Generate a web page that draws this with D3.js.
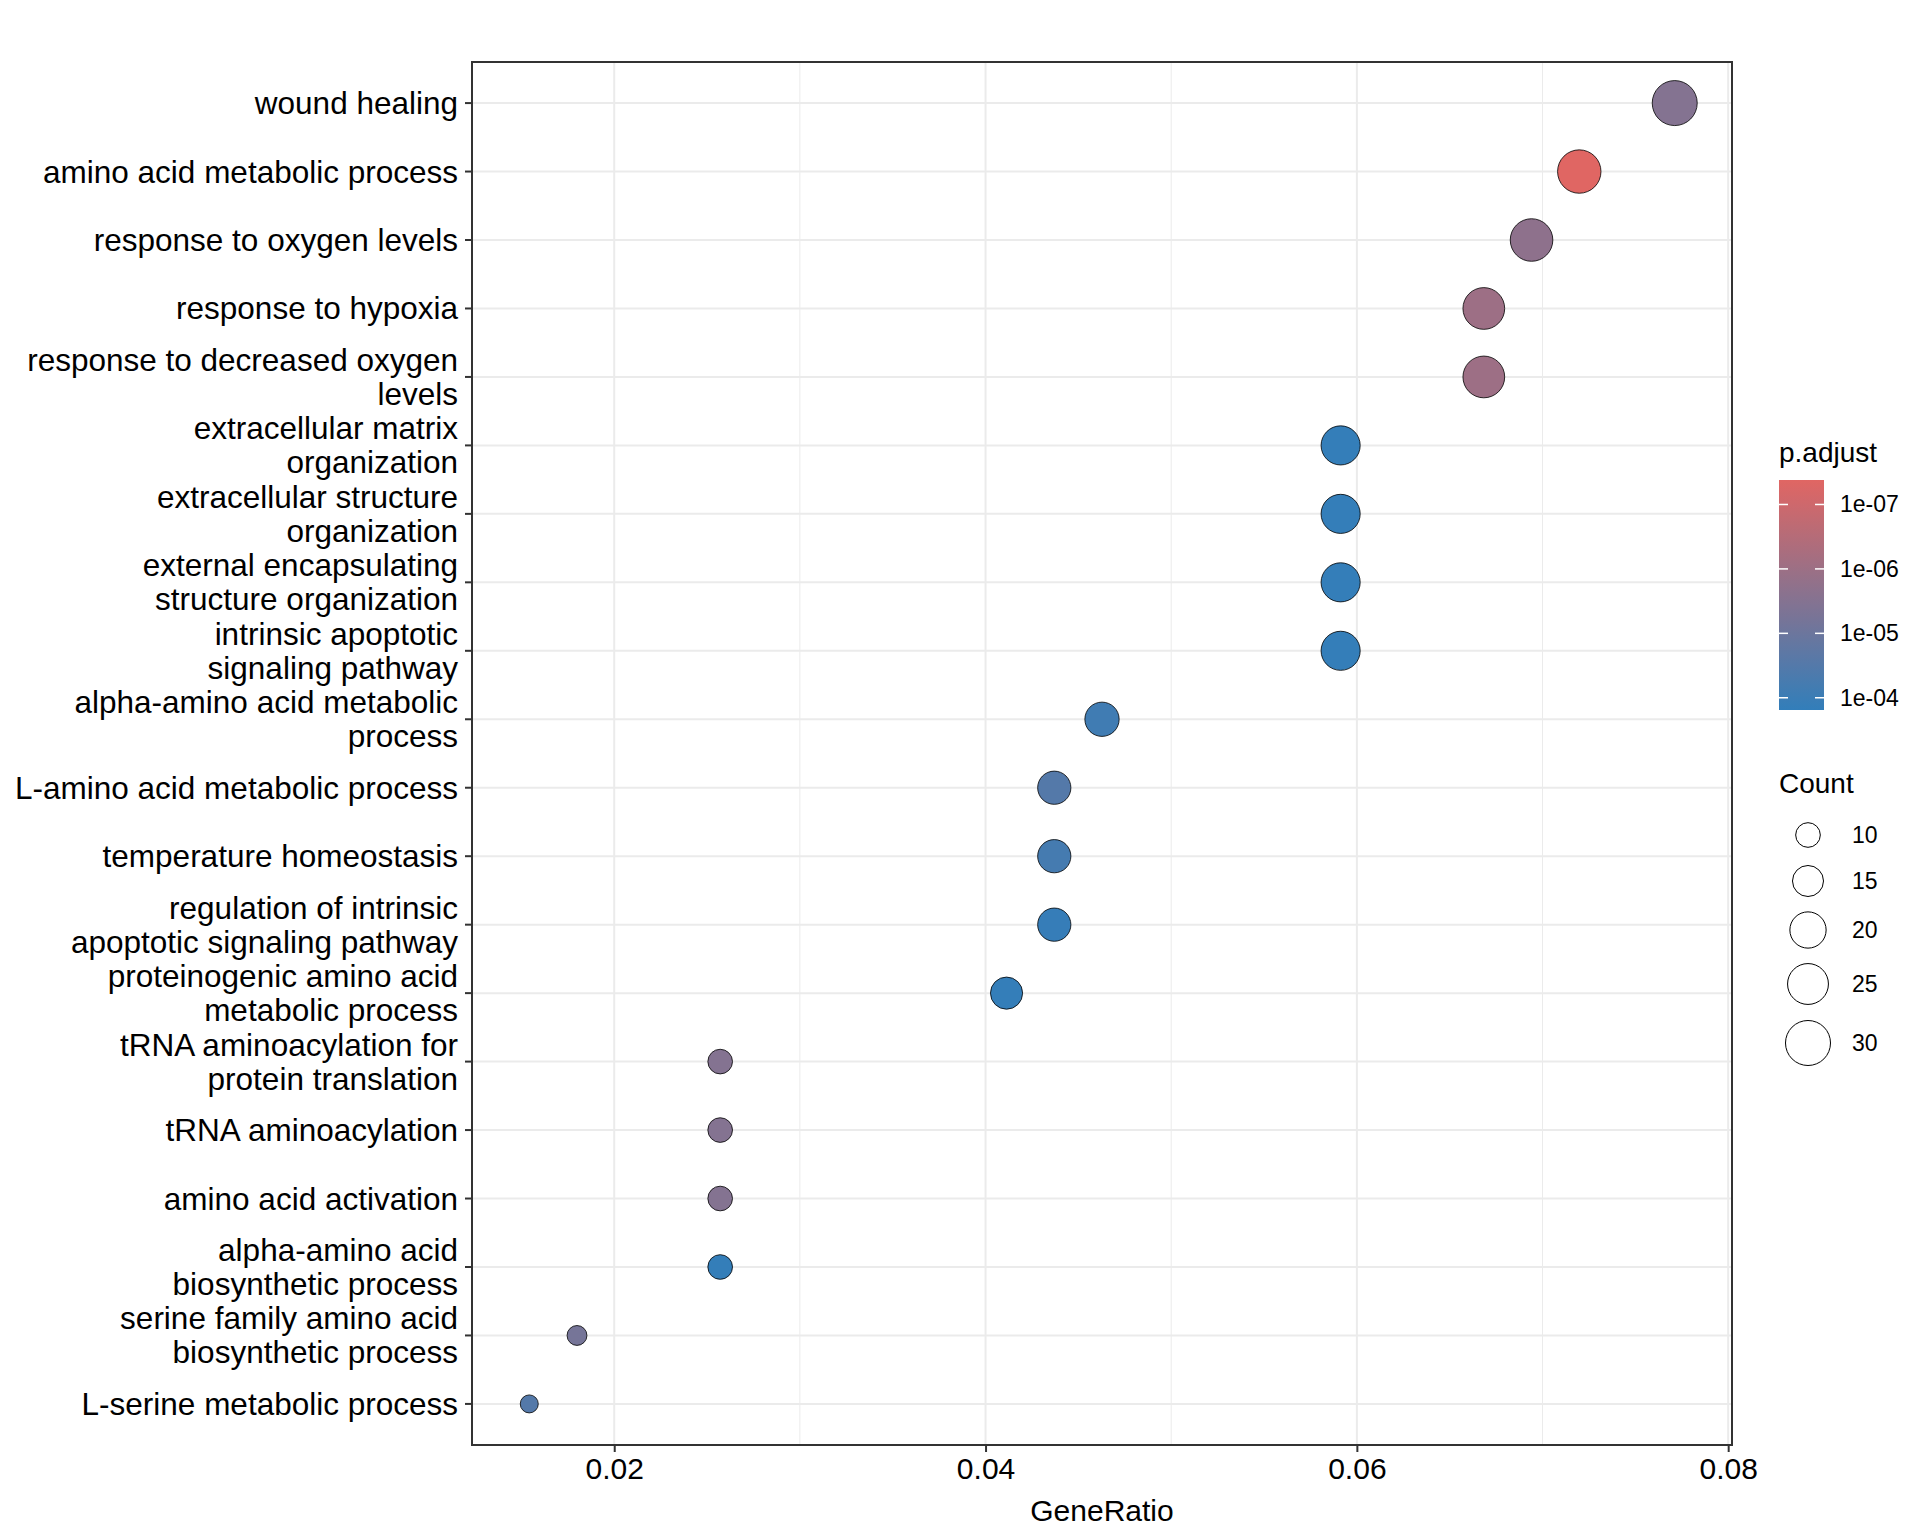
<!DOCTYPE html>
<html lang="en">
<head>
<meta charset="UTF-8">
<script src="https://d3js.org/d3.v7.min.js"></script>
<style>
  body { margin: 0; background: #fff; font-family: 'Liberation Sans', Arial, sans-serif; }
  .grid-major { stroke: #ebebeb; stroke-width: 2; }
  .grid-minor { stroke: #ebebeb; stroke-width: 1; }
</style>
</head>
<body>
<script>
  // terms, top to bottom
  const terms = [
    "wound healing", "amino acid metabolic process", "response to oxygen levels",
    "response to hypoxia", "response to decreased oxygen|levels", "extracellular matrix|organization",
    "extracellular structure|organization", "external encapsulating|structure organization",
    "intrinsic apoptotic|signaling pathway", "alpha-amino acid metabolic|process",
    "L-amino acid metabolic process", "temperature homeostasis",
    "regulation of intrinsic|apoptotic signaling pathway", "proteinogenic amino acid|metabolic process",
    "tRNA aminoacylation for|protein translation", "tRNA aminoacylation", "amino acid activation",
    "alpha-amino acid|biosynthetic process", "serine family amino acid|biosynthetic process",
    "L-serine metabolic process"
  ];
  const counts = [30, 28, 27, 26, 26, 23, 23, 23, 23, 18, 17, 17, 17, 16, 10, 10, 10, 10, 7, 6];
  const total = 389;
  const log10Padj = [-5.5, -7.38, -5.7, -6.0, -6.0, -3.85, -3.85, -3.85, -3.85, -4.1,
                     -4.5, -4.2, -3.9, -3.85, -5.5, -5.5, -5.5, -3.85, -5.2, -4.5];
  const xTicks = [0.02, 0.04, 0.06, 0.08];
  const colorTicks = [1e-7, 1e-6, 1e-5, 1e-4];
  const sizeBreaks = [10, 15, 20, 25, 30];

  const data = terms.map((t, i) => ({ term: t, count: counts[i], ratio: counts[i] / total, p: Math.pow(10, log10Padj[i]) }));

  const W = 1920, H = 1536;
  const L = 472, R = 1732, T = 62, B = 1445;
  const svg = d3.select("body").append("svg").attr("width", W).attr("height", H);

  const ext = d3.extent(data, d => d.ratio);
  const pad = (ext[1] - ext[0]) * 0.05;
  const x = d3.scaleLinear().domain([ext[0] - pad, ext[1] + pad]).range([L, R]);
  const y = d3.scalePoint().domain(terms).range([T, B]).padding(0.6);
  const pMin = Math.pow(10, -7.38), pMax = Math.pow(10, -3.81);
  const color = d3.scaleLog().domain([pMin, pMax]).range(["#e06663", "#327eba"]).interpolate(d3.interpolateRgb);
  const rMin = 9, rMax = 22.5;
  const r = c => Math.sqrt(rMin * rMin + (c - 6) / 24 * (rMax * rMax - rMin * rMin));

  // grid
  const minor = [0.01, 0.03, 0.05, 0.07].filter(v => x(v) > L && x(v) < R);
  svg.selectAll(".gmin").data(minor).enter().append("line").attr("class", "grid-minor")
    .attr("x1", d => x(d)).attr("x2", d => x(d)).attr("y1", T).attr("y2", B);
  svg.selectAll(".gmaj").data(xTicks.filter(v => x(v) < R)).enter().append("line").attr("class", "grid-major")
    .attr("x1", d => x(d)).attr("x2", d => x(d)).attr("y1", T).attr("y2", B);
  svg.selectAll(".gy").data(terms).enter().append("line").attr("class", "grid-major")
    .attr("x1", L).attr("x2", R).attr("y1", d => y(d)).attr("y2", d => y(d));

  // points
  svg.selectAll(".pt").data(data).enter().append("circle")
    .attr("cx", d => x(d.ratio)).attr("cy", d => y(d.term)).attr("r", d => r(d.count))
    .attr("fill", d => color(d.p)).attr("stroke", "#000").attr("stroke-width", 0.8);

  svg.append("rect").attr("x", L).attr("y", T).attr("width", R - L).attr("height", B - T)
    .attr("fill", "none").attr("stroke", "#333").attr("stroke-width", 2);

  // x axis
  const xa = svg.append("g").attr("transform", `translate(0,${B})`)
    .call(d3.axisBottom(x).tickValues(xTicks).tickSize(7).tickPadding(6).tickFormat(d3.format(".2f")));
  xa.select(".domain").remove();
  xa.selectAll("line").attr("stroke", "#333").attr("stroke-width", 2);
  xa.selectAll("text").attr("font-size", 30).attr("fill", "#000").attr("font-family", "Liberation Sans, Arial");
  svg.append("text").attr("x", (L + R) / 2).attr("y", 1521).attr("text-anchor", "middle")
    .attr("font-size", 30).text("GeneRatio");

  // y axis
  const ya = svg.append("g");
  terms.forEach(t => {
    const yy = y(t);
    ya.append("line").attr("x1", L - 7).attr("x2", L).attr("y1", yy).attr("y2", yy).attr("stroke", "#333").attr("stroke-width", 2);
    const lines = t.split("|");
    const tx = ya.append("text").attr("text-anchor", "end").attr("font-size", 31.5).attr("fill", "#000");
    lines.forEach((s, i) => {
      tx.append("tspan").attr("x", L - 14).attr("y", yy + 11 + (i - (lines.length - 1) / 2) * 34).text(s);
    });
  });

  // colour legend
  const cbX = 1779, cbY = 480, cbW = 45, cbH = 230;
  svg.append("text").attr("x", cbX).attr("y", 462).attr("font-size", 28).text("p.adjust");
  const defs = svg.append("defs");
  const grad = defs.append("linearGradient").attr("id", "g").attr("x1", 0).attr("x2", 0).attr("y1", 0).attr("y2", 1);
  d3.range(0, 1.0001, 0.1).forEach(f => {
    const p = Math.pow(10, Math.log10(pMin) + f * (Math.log10(pMax) - Math.log10(pMin)));
    grad.append("stop").attr("offset", f).attr("stop-color", color(p));
  });
  svg.append("rect").attr("x", cbX).attr("y", cbY).attr("width", cbW).attr("height", cbH).attr("fill", "url(#g)");
  const cy = d3.scaleLog().domain([pMin, pMax]).range([cbY, cbY + cbH]);
  colorTicks.forEach(v => {
    const yy = cy(v);
    svg.append("line").attr("x1", cbX).attr("x2", cbX + 9).attr("y1", yy).attr("y2", yy).attr("stroke", "#fff").attr("stroke-width", 1.5);
    svg.append("line").attr("x1", cbX + cbW - 9).attr("x2", cbX + cbW).attr("y1", yy).attr("y2", yy).attr("stroke", "#fff").attr("stroke-width", 1.5);
    svg.append("text").attr("x", 1840).attr("y", yy + 8).attr("font-size", 23).text(d3.format(".0e")(v).replace("e-", "e-0"));
  });

  // size legend
  svg.append("text").attr("x", cbX).attr("y", 793).attr("font-size", 28).text("Count");
  const sy = [835, 881, 930, 984, 1043];
  sizeBreaks.forEach((c, i) => {
    svg.append("circle").attr("cx", 1808).attr("cy", sy[i]).attr("r", r(c)).attr("fill", "none").attr("stroke", "#000").attr("stroke-width", 1);
    svg.append("text").attr("x", 1852).attr("y", sy[i] + 8).attr("font-size", 23).text(c);
  });
</script>
</body>
</html>
